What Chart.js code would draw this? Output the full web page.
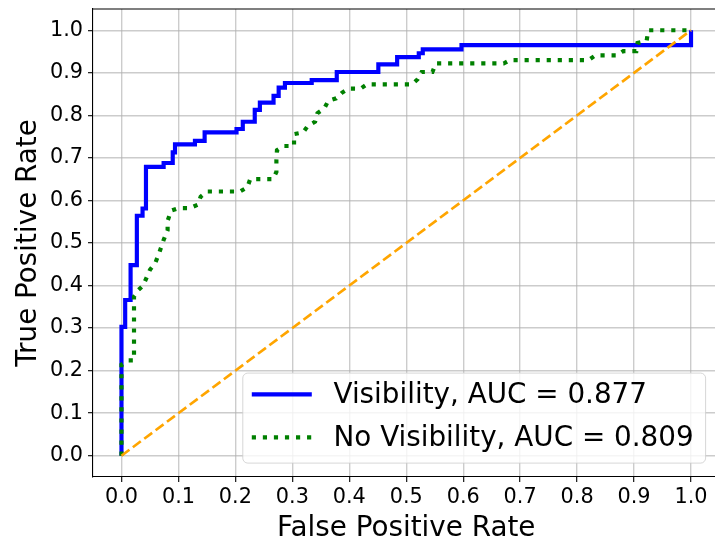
<!DOCTYPE html>
<html>
<head>
<meta charset="utf-8">
<script src="https://cdn.jsdelivr.net/npm/chart.js@4/dist/chart.umd.min.js"></script>
<style>
  html, body { margin: 0; padding: 0; overflow: hidden; background: #fff; }
  #wrap { width: 720px; height: 543px; }
</style>
</head>
<body>
<div id="wrap"><canvas id="rocChart" width="720" height="543"></canvas></div>
<script>
  // ROC curve with visibility features
  const visFpr = [0, 0, 0.0065, 0.0065, 0.016, 0.016, 0.027, 0.027, 0.037, 0.037, 0.043, 0.043,
    0.074, 0.074, 0.09, 0.09, 0.094, 0.094, 0.129, 0.129, 0.146, 0.146, 0.202, 0.202, 0.213, 0.213,
    0.234, 0.234, 0.243, 0.243, 0.267, 0.267, 0.276, 0.276, 0.287, 0.287, 0.334, 0.334, 0.378, 0.378,
    0.451, 0.451, 0.484, 0.484, 0.522, 0.522, 0.529, 0.529, 0.597, 0.597, 1.0, 1.0];
  const visTpr = [0, 0.303, 0.303, 0.366, 0.366, 0.448, 0.448, 0.564, 0.564, 0.581, 0.581, 0.679,
    0.679, 0.688, 0.688, 0.713, 0.713, 0.732, 0.732, 0.740, 0.740, 0.760, 0.760, 0.768, 0.768, 0.785,
    0.785, 0.813, 0.813, 0.830, 0.830, 0.846, 0.846, 0.865, 0.865, 0.876, 0.876, 0.883, 0.883, 0.902,
    0.902, 0.920, 0.920, 0.937, 0.937, 0.946, 0.946, 0.955, 0.955, 0.965, 0.965, 1.0];

  // ROC curve without visibility features
  const noVisFpr = [0, 0, 0.012, 0.022, 0.022, 0.030, 0.038, 0.050, 0.059, 0.065, 0.074, 0.081,
    0.081, 0.087, 0.100, 0.120, 0.134, 0.139, 0.150, 0.208, 0.221, 0.226, 0.266, 0.272, 0.272, 0.273,
    0.284, 0.303, 0.303, 0.319, 0.327, 0.340, 0.344, 0.356, 0.363, 0.377, 0.387, 0.399, 0.420, 0.431,
    0.510, 0.520, 0.527, 0.546, 0.552, 0.671, 0.682, 0.820, 0.832, 0.870, 0.881, 0.904, 0.906, 0.922,
    0.925, 1.0];
  const noVisTpr = [0, 0.214, 0.224, 0.224, 0.374, 0.390, 0.400, 0.437, 0.452, 0.472, 0.507, 0.530,
    0.552, 0.576, 0.582, 0.582, 0.590, 0.609, 0.621, 0.621, 0.631, 0.650, 0.650, 0.667, 0.695, 0.718,
    0.728, 0.728, 0.756, 0.760, 0.775, 0.785, 0.805, 0.816, 0.834, 0.840, 0.853, 0.863, 0.863, 0.873,
    0.873, 0.885, 0.902, 0.902, 0.922, 0.922, 0.930, 0.930, 0.941, 0.941, 0.951, 0.951, 0.970, 0.975,
    1.0, 1.0];

  // chance line
  const chanceX = [0, 1];
  const chanceY = [0, 1];

  const visLabel = 'Visibility, AUC = 0.877';
  const noVisLabel = 'No Visibility, AUC = 0.809';

  const tickValues = [0, 0.1, 0.2, 0.3, 0.4, 0.5, 0.6, 0.7, 0.8, 0.9, 1.0];
  const tickLabels = ['0.0', '0.1', '0.2', '0.3', '0.4', '0.5', '0.6', '0.7', '0.8', '0.9', '1.0'];

  const FONT = 'DejaVu Sans';
  const LW = 4.17;

  function toPoints(xs, ys) {
    return xs.map((x, i) => ({ x: x, y: ys[i] }));
  }

  function fixedTicks(scale) {
    scale.ticks = tickValues.map(v => ({ value: v }));
  }

  // Legend box drawn inside the axes, lower right
  const innerLegend = {
    id: 'innerLegend',
    afterDraw(chart) {
      const ctx = chart.ctx;
      const area = chart.chartArea;
      const fs = 27.8;
      const items = chart.data.datasets.filter(d => d.label);
      ctx.save();
      ctx.font = fs + 'px "' + FONT + '"';
      const textW = Math.max(...items.map(d => ctx.measureText(d.label).width));
      const pad = 9, handleLen = 60, gap = 21.7, rowH = 43;
      const w = pad + handleLen + gap + textW + 12;
      const h = 90;
      const right = area.right - 0.5 * fs;
      const bottom = area.bottom - 0.5 * fs;
      const left = right - w, top = bottom - h;

      ctx.beginPath();
      ctx.roundRect(left, top, w, h, 5);
      ctx.fillStyle = 'rgba(255,255,255,0.8)';
      ctx.fill();
      ctx.lineWidth = 1;
      ctx.strokeStyle = 'rgba(204,204,204,0.8)';
      ctx.stroke();

      items.forEach((d, i) => {
        const cy = top + 21.3 + i * rowH;
        ctx.beginPath();
        ctx.setLineDash(d.borderDash || []);
        ctx.lineCap = 'butt';
        ctx.lineWidth = d.borderWidth;
        ctx.strokeStyle = d.borderColor;
        ctx.moveTo(left + pad, cy);
        ctx.lineTo(left + pad + handleLen, cy);
        ctx.stroke();
        ctx.setLineDash([]);
        ctx.fillStyle = '#000';
        ctx.textBaseline = 'middle';
        ctx.textAlign = 'left';
        ctx.fillText(d.label, left + pad + handleLen + gap, cy + 1);
      });

      // top spine
      ctx.beginPath();
      ctx.lineWidth = 1.1;
      ctx.strokeStyle = '#000';
      ctx.moveTo(area.left, area.top);
      ctx.lineTo(area.right, area.top);
      ctx.stroke();
      ctx.restore();
    }
  };

  const ctx = document.getElementById('rocChart');

  new Chart(ctx, {
    type: 'line',
    data: {
      datasets: [
        {
          label: visLabel,
          data: toPoints(visFpr, visTpr),
          borderColor: '#0000ff',
          borderWidth: LW,
          order: 3
        },
        {
          label: noVisLabel,
          data: toPoints(noVisFpr, noVisTpr),
          borderColor: '#008000',
          borderWidth: LW,
          borderDash: [LW, 1.65 * LW],
          order: 2
        },
        {
          label: '',
          data: toPoints(chanceX, chanceY),
          borderColor: '#ffa500',
          borderWidth: 2.67,
          borderDash: [9.9, 4.3],
          order: 1
        }
      ]
    },
    options: {
      responsive: false,
      animation: false,
      events: [],
      layout: { padding: { top: 9, right: 0.5, left: 0, bottom: 0 } },
      elements: {
        point: { radius: 0 },
        line: { tension: 0, borderCapStyle: 'butt', borderJoinStyle: 'miter', fill: false }
      },
      plugins: {
        legend: { display: false },
        tooltip: { enabled: false }
      },
      scales: {
        x: {
          type: 'linear',
          min: -0.05,
          max: 1.05,
          afterBuildTicks: fixedTicks,
          afterFit: s => { s.height = 66; s.paddingLeft = 0; s.paddingRight = 0; },
          border: { display: true, color: '#000', width: 1.1 },
          grid: { color: 'rgba(176,176,176,0.65)', lineWidth: 1.4, tickLength: 5, tickColor: '#000', tickWidth: 1.1 },
          ticks: {
            autoSkip: false,
            maxRotation: 0,
            padding: 3,
            color: '#000',
            font: { family: FONT, size: 20.8 },
            callback: (v, i) => tickLabels[i]
          },
          title: {
            display: true,
            text: 'False Positive Rate',
            color: '#000',
            font: { family: FONT, size: 27.8, lineHeight: 1.0 },
            padding: { top: 0, bottom: 0 }
          }
        },
        y: {
          type: 'linear',
          min: -0.05,
          max: 1.05,
          afterBuildTicks: fixedTicks,
          afterFit: s => { s.width = 93; s.paddingTop = 0; s.paddingBottom = 0; },
          border: { display: true, color: '#000', width: 1.1 },
          grid: { color: 'rgba(176,176,176,0.65)', lineWidth: 1.4, tickLength: 5, tickColor: '#000', tickWidth: 1.1 },
          ticks: {
            autoSkip: false,
            padding: 5,
            color: '#000',
            font: { family: FONT, size: 20.8 },
            callback: (v, i) => tickLabels[i]
          },
          title: {
            display: true,
            text: 'True Positive Rate',
            color: '#000',
            font: { family: FONT, size: 27.8 },
            padding: { top: 12, bottom: 0 }
          }
        }
      }
    },
    plugins: [innerLegend]
  });
</script>
</body>
</html>
